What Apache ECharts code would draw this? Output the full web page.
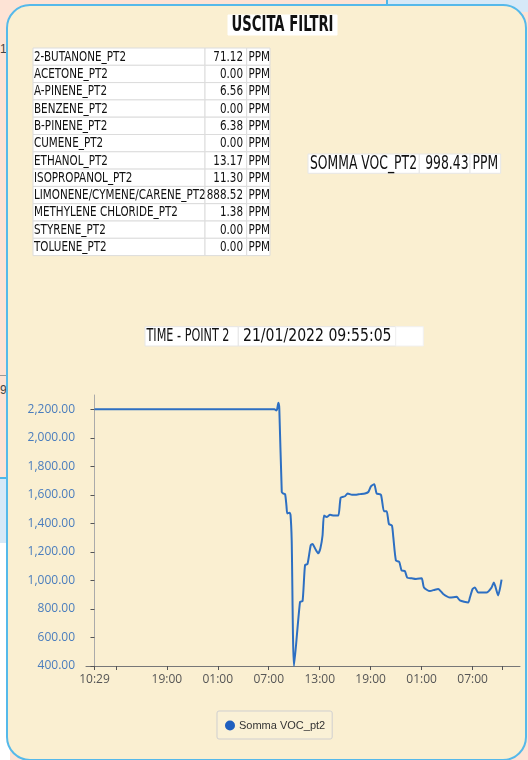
<!DOCTYPE html>
<html><head><meta charset="utf-8">
<script src="https://cdn.jsdelivr.net/npm/echarts@6/dist/echarts.min.js"></script>
<style>
html,body{margin:0;padding:0;width:528px;height:760px;overflow:hidden;background:#fde3d5;position:relative}
#bgTR{position:absolute;left:386px;top:0;width:142px;height:12px;background:#d6e9f8;border-left:2px solid #4fb6e8}
#bgL{position:absolute;left:0;top:477px;width:10px;height:64px;background:#d6e9f8;border-top:2px solid #4fb6e8}
#bgLW{position:absolute;left:0;top:543px;width:10px;height:217px;background:#fff}
#lineL{position:absolute;left:0;top:375px;width:8px;height:1px;background:#999}
.edge{position:absolute;left:0;font:12px "Liberation Sans",sans-serif;color:#444}
#panel{position:absolute;left:6px;top:4px;width:521px;height:757px;background:#faefd1;border:2.5px solid #55b9ea;border-radius:24px;box-sizing:border-box}
#chart{position:absolute;left:0;top:0;width:528px;height:760px}
</style></head>
<body>
<div id="bgTR"></div><div id="bgL"></div><div id="bgLW"></div><div id="lineL"></div>
<div class="edge" style="top:42px">1</div>
<div class="edge" style="top:383px">9</div>
<div id="panel"></div>
<div id="chart"></div>
<script>
// ---------- data ----------
const titleText = 'USCITA FILTRI';
const compoundNames = ['2-BUTANONE_PT2','ACETONE_PT2','A-PINENE_PT2','BENZENE_PT2','B-PINENE_PT2','CUMENE_PT2','ETHANOL_PT2','ISOPROPANOL_PT2','LIMONENE/CYMENE/CARENE_PT2','METHYLENE CHLORIDE_PT2','STYRENE_PT2','TOLUENE_PT2'];
const compoundValues = ['71.12','0.00','6.56','0.00','6.38','0.00','13.17','11.30','888.52','1.38','0.00','0.00'];
const unitText = 'PPM';
const sommaLabel = 'SOMMA VOC_PT2';
const sommaValue = '998.43';
const timeLabel = 'TIME - POINT 2';
const timeValue = '21/01/2022 09:55:05';
const seriesName = 'Somma VOC_pt2';
// hours since first sample (10:29)
const hoursSinceStart = [0,4,8,12,16,20,21.2,21.38,21.5,21.65,21.76,22.05,22.2,22.44,22.6,22.7,22.96,23.08,23.22,23.49,24.2,24.5,24.79,25.08,25.46,25.67,25.96,26.35,26.6,26.85,27.02,27.34,27.73,28.2,28.71,28.99,29.49,29.81,30.32,30.67,31.26,31.85,32.24,32.55,32.94,33.22,33.73,34.08,34.4,34.67,35.02,35.18,35.49,35.88,36.16,36.55,36.82,37.34,37.85,38.52,38.79,39.49,40.08,40.47,41.06,41.85,42.64,43.02,44.0,44.2,44.52,44.79,45.18,46.16,46.75,47.02,47.53,47.93];
const sommaVoc = [2200,2200,2200,2200,2200,2200,2200,2192,2200,2245,2205,1620,1610,1605,1525,1470,1475,1460,1280,400,850,855,1107,1115,1247,1255,1225,1190,1225,1315,1455,1445,1460,1455,1455,1580,1590,1610,1600,1600,1605,1610,1620,1660,1675,1610,1600,1485,1485,1395,1385,1305,1140,1130,1070,1065,1020,1015,1010,1015,950,925,935,940,905,880,885,860,845,880,940,950,915,915,950,985,895,1005];
const xTickHours = [0,2.517,8.517,14.517,20.517,26.517,32.517,38.517,44.517,48];
const xTickLabels = ['10:29','','19:00','01:00','07:00','13:00','19:00','01:00','07:00',''];
const yTickValues = [400,600,800,1000,1200,1400,1600,1800,2000,2200];

// ---------- helpers ----------
const FONT = '"DejaVu Sans", sans-serif';
const cv = document.createElement('canvas').getContext('2d');
function measure(t, size, weight){ cv.font = (weight||'normal')+' '+size+'px '+FONT; return cv.measureText(t).width; }
function fitScale(sample, size, target, weight){ return target / measure(sample, size, weight); }

const graphics = [];
function txt(t, x, y, size, sx, align, weight){
  graphics.push({type:'text', x:x, y:y, scaleX:sx, z:10,
    style:{text:t, fontSize:size, fontFamily:FONT, fontWeight:weight||'normal', fill:'#111',
      align:align, verticalAlign:'middle', textAlign:align, textVerticalAlign:'middle'}});
}
function cell(x, y, w, h, stroke){
  graphics.push({type:'rect', z:5, shape:{x:x, y:y, width:w, height:h},
    style:{fill:'#ffffff', stroke:stroke||'#dcdcdc', lineWidth:1}});
}

// title
cell(228, 15, 109, 20, '#ffffff');
const sTitle = fitScale(titleText, 21, 102, 'bold');
txt(titleText, 282.5, 25.5, 21, sTitle, 'center', 'bold');

// table
const tTop = 48, rowH = 17.3;
const sTab = fitScale('2-BUTANONE_PT2', 14, 92);
compoundNames.forEach((n, i) => {
  const y = tTop + i*rowH;
  cell(33, y, 172, rowH);
  cell(205, y, 41.7, rowH);
  cell(246.7, y, 23.3, rowH);
  txt(n, 34, y + rowH/2 + 0.5, 14, sTab, 'left');
  txt(compoundValues[i], 243, y + rowH/2 + 0.5, 14, sTab, 'right');
  txt(unitText, 248.5, y + rowH/2 + 0.5, 14, sTab, 'left');
});

// somma
const sSom = fitScale(sommaLabel, 19, 107);
cell(308, 154, 111.3, 19.3, '#e6e6e6');
cell(419.3, 154, 50.7, 19.3, '#e6e6e6');
cell(470, 154, 30.7, 19.3, '#e6e6e6');
txt(sommaLabel, 310, 164, 19, sSom, 'left');
txt(sommaValue, 468.5, 164, 19, sSom, 'right');
txt(unitText, 472.5, 164, 19, sSom, 'left');

// time
const sTime = fitScale(timeValue, 17, 148.5);
const sTimeL = fitScale(timeLabel, 17, 83);
cell(145, 326.7, 93.3, 19.3, '#e6e6e6');
cell(238.3, 326.7, 157.4, 19.3, '#e6e6e6');
cell(395.7, 326.7, 27.6, 19.3, '#f0f0f0');
txt(timeLabel, 146.5, 336.5, 17, sTimeL, 'left');
txt(timeValue, 243, 336.5, 17, sTime, 'left');

// ---------- chart ----------
const chart = echarts.init(document.getElementById('chart'), null, {renderer:'canvas'});
const fmtNum = v => Number(v).toLocaleString('en-US', {minimumFractionDigits:2, maximumFractionDigits:2});
chart.setOption({
  backgroundColor: 'transparent',
  animation: false,
  graphic: graphics,
  grid: {left: 86, right: 8, top: 395, bottom: 94, containLabel: false},
  legend: {
    data: [seriesName], left: 217, top: 711, icon: 'circle', itemWidth: 10, itemHeight: 10, itemGap: 5,
    padding: [9, 7, 8, 8], borderColor: '#cfcfcf', borderWidth: 1, borderRadius: 2,
    backgroundColor: 'rgba(255,255,255,0.12)',
    textStyle: {fontSize: 11, color: '#333', fontFamily: '"Liberation Sans", Arial, sans-serif', padding:[0,0,0,-1]}
  },
  xAxis: {
    type: 'value', min: -1.0, max: 50.1,
    axisLine: {show: true, lineStyle: {color: '#777', width: 1}},
    axisTick: {show: true, length: 4, lineStyle: {color: '#555'}, customValues: xTickHours},
    axisLabel: {customValues: xTickHours, margin: 8, color: '#555', fontSize: 12,
      fontFamily: '"Open Sans", "Noto Sans", sans-serif',
      formatter: v => { const i = xTickHours.findIndex(h => Math.abs(h - v) < 1e-6); return i >= 0 ? xTickLabels[i] : ''; }},
    splitLine: {show: false}
  },
  yAxis: {
    type: 'value', min: 400, max: 2300, interval: 200,
    axisLine: {show: true, lineStyle: {color: '#aaa', width: 1}},
    axisTick: {show: true, length: 4, lineStyle: {color: '#555'}, customValues: yTickValues},
    axisLabel: {customValues: yTickValues, margin: 11, color: '#4a7dbd', fontSize: 12,
      fontFamily: '"Open Sans", "Noto Sans", sans-serif', formatter: v => fmtNum(v)},
    splitLine: {show: false}
  },
  series: [{
    name: seriesName, type: 'line', showSymbol: false, smooth: 0.2,
    color: '#1f5fbf',
    lineStyle: {color: '#2d6fc2', width: 2},
    data: hoursSinceStart.map((h, i) => [h, sommaVoc[i]])
  }]
});
</script>
</body></html>
